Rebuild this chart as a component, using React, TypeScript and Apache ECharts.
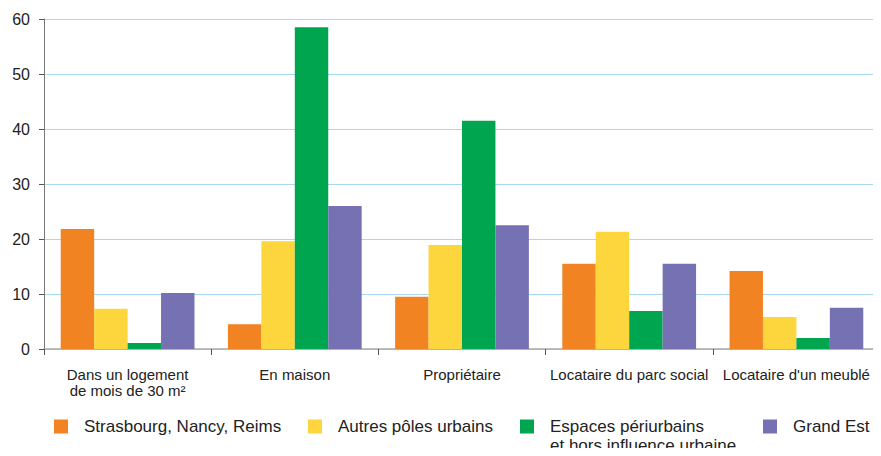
import React, { useEffect, useRef } from "react";
import * as echarts from "echarts";

const categories = [
  "Dans un logement\nde mois de 30 m²",
  "En maison",
  "Propriétaire",
  "Locataire du parc social",
  "Locataire d'un meublé",
];
const seriesNames = [
  "Strasbourg, Nancy, Reims",
  "Autres pôles urbains",
  "Espaces périurbains et hors influence urbaine",
  "Grand Est",
];
const legendLines = [
  ["Strasbourg, Nancy, Reims"],
  ["Autres pôles urbains"],
  ["Espaces périurbains", "et hors influence urbaine"],
  ["Grand Est"],
];
const strasbourg = [21.8, 4.5, 9.5, 15.5, 14.2];
const autresPoles = [7.3, 19.6, 18.9, 21.3, 5.8];
const periurbains = [1.1, 58.5, 41.5, 6.9, 2.0];
const grandEst = [10.2, 26.0, 22.5, 15.5, 7.5];
const colors = ["#F28322", "#FDD53C", "#00A54F", "#7671B3"];

export default function App() {
  const ref = useRef<HTMLDivElement>(null);
  useEffect(() => {
    const chart = echarts.init(ref.current!, null, { renderer: "svg" });
    const values = [strasbourg, autresPoles, periurbains, grandEst];
    const font = "'Liberation Sans', Arial, sans-serif";
    const legendLefts = [54, 308, 520, 763];
    chart.setOption({
      animation: false,
      textStyle: { fontFamily: font },
      grid: { left: 44, right: 1, top: 19, bottom: 107 },
      legend: seriesNames.map((n, i) => ({
        data: [n],
        left: legendLefts[i],
        top: 418,
        padding: 0,
        itemWidth: 14,
        itemHeight: 14,
        icon: "rect",
        selectedMode: false,
        formatter: () => legendLines[i][0],
        textStyle: {
          fontSize: 17,
          fontFamily: font,
          color: "#222",
          padding: [0, 0, 0, 11],
        },
      })),
      graphic: [
        {
          type: "text",
          left: 550,
          top: 437,
          style: {
            text: legendLines[2][1],
            fontSize: 17,
            fontFamily: font,
            fill: "#222",
          },
        },
      ],
      xAxis: {
        type: "category",
        data: categories,
        axisLine: { lineStyle: { color: "#aaa", width: 1.5 } },
        axisTick: { show: true, length: 6, lineStyle: { color: "#555" } },
        axisLabel: {
          interval: 0,
          fontSize: 15,
          color: "#222",
          lineHeight: 16,
          margin: 17,
          fontFamily: font,
        },
      },
      yAxis: [
        {
          type: "value",
          min: 0,
          max: 60,
          interval: 10,
          axisLine: { show: true, lineStyle: { color: "#777" } },
          axisTick: { show: true, length: 5, lineStyle: { color: "#555" } },
          axisLabel: { fontSize: 16, color: "#222", margin: 14, fontFamily: font },
          splitLine: { lineStyle: { color: "#A8D8F0", width: 1.2 } },
        },
        {
          type: "value",
          min: 0,
          max: 60,
          interval: 10,
          position: "right",
          axisLine: { show: true, lineStyle: { color: "#A8D8F0" } },
          axisTick: { show: false },
          axisLabel: { show: false },
          splitLine: { show: false },
        },
      ],
      series: seriesNames.map((n, i) => ({
        name: n,
        type: "bar",
        data: values[i],
        barGap: "0%",
        barCategoryGap: "20%",
        itemStyle: { color: colors[i] },
      })),
    });
    return () => chart.dispose();
  }, []);
  return <div ref={ref} style={{ width: 881, height: 456, margin: -8 }} />;
}
